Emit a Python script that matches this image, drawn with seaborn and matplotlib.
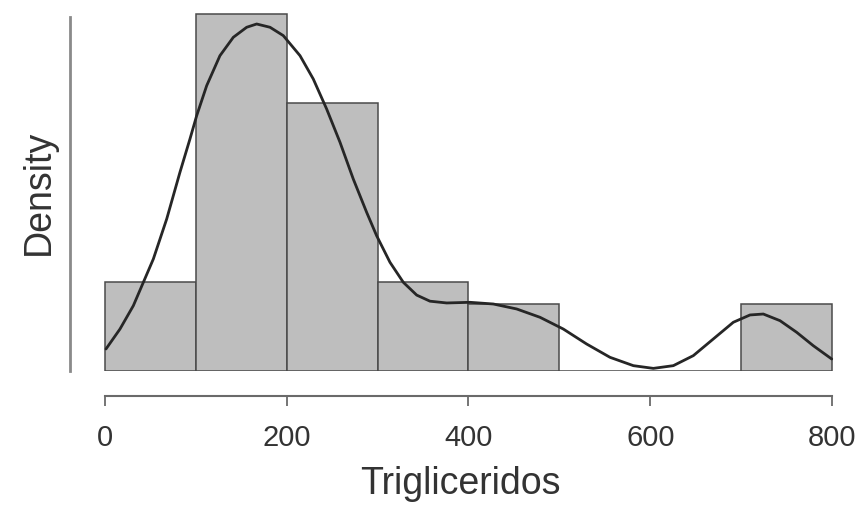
import matplotlib
matplotlib.use("Agg")
import matplotlib.pyplot as plt
import seaborn as sns

# Histogram data (bin edges and counts)
bin_edges = [0, 100, 200, 300, 400, 500, 600, 700, 800]
bin_counts = [4, 16, 12, 4, 3, 0, 0, 3]
bin_mids = [50, 150, 250, 350, 450, 550, 650, 750]

# Density curve, points
curve_x = [1.1, 16.5, 31.2, 42.2, 53.2, 67.9, 82.5, 93.5, 100.9, 111.9,
           126.5, 141.2, 155.9, 166.9, 181.6, 196.2, 214.6, 229.2, 243.9,
           258.6, 273.2, 287.9, 298.9, 313.6, 328.3, 343.0, 357.6, 376.0,
           401.7, 427.3, 453.0, 478.7, 504.3, 530.0, 555.7, 581.4, 603.4,
           625.4, 647.4, 669.4, 691.4, 709.8, 724.4, 742.8, 761.1, 779.4,
           799.7]
curve_density = [0.000235, 0.000448, 0.000697, 0.000946, 0.001195, 0.001622,
                 0.002121, 0.002476, 0.002725, 0.003045, 0.003365, 0.003561,
                 0.003668, 0.003703, 0.003668, 0.003579, 0.003365, 0.003116,
                 0.002796, 0.002441, 0.002049, 0.001694, 0.001444, 0.00116,
                 0.000946, 0.000810, 0.000745, 0.000726, 0.000733, 0.000715,
                 0.000662, 0.000573, 0.000448, 0.000288, 0.000146, 0.000057,
                 0.000028, 0.000057, 0.000164, 0.000342, 0.00052, 0.000598,
                 0.000608, 0.000537, 0.000413, 0.00027, 0.000128]

x_ticks = [0, 200, 400, 600, 800]
x_tick_labels = ["0", "200", "400", "600", "800"]

sns.set_style("white")
plt.rcParams["font.family"] = ["Liberation Sans", "DejaVu Sans"]

fig = plt.figure(figsize=(8.6, 5.1), dpi=100)
ax = fig.add_axes([70 / 860, (510 - 372) / 510, 780 / 860, 362 / 510])

sns.histplot(x=bin_mids, weights=bin_counts, bins=bin_edges, stat="density",
             color="#bebebe", edgecolor="#4a4a4a", linewidth=1.1, alpha=1,
             ax=ax)
sns.lineplot(x=curve_x, y=curve_density, color="#262626", linewidth=2.0,
             sort=False, ax=ax)
for ln in ax.lines:
    ln.set_solid_joinstyle("round")
    ln.set_solid_capstyle("round")

ax.set_xlim(-38.5, 819.8)
ax.set_ylim(0, 0.003863)

for s in ["top", "right"]:
    ax.spines[s].set_visible(False)
ax.spines["left"].set_bounds(0, 0.00378)
ax.spines["left"].set_color("#8a8a8a")
ax.spines["left"].set_linewidth(2.0)
ax.spines["bottom"].set_position(("outward", 18))
ax.spines["bottom"].set_bounds(0, 800)
ax.spines["bottom"].set_color("#6a6a6a")
ax.spines["bottom"].set_linewidth(1.5)

ax.set_yticks([])
ax.set_xticks(x_ticks)
ax.set_xticklabels(x_tick_labels)
ax.tick_params(axis="x", direction="out", length=7.5, width=1.3,
               color="#6a6a6a", labelsize=21, labelcolor="#333333", pad=12,
               bottom=True)

ax.set_xlabel("Trigliceridos", fontsize=27, color="#333333", labelpad=10)
ax.set_ylabel("Density", fontsize=27, color="#333333")
ax.yaxis.set_label_coords(-0.017, 0.497)

fig.savefig("out.png", dpi=100, facecolor="white")
